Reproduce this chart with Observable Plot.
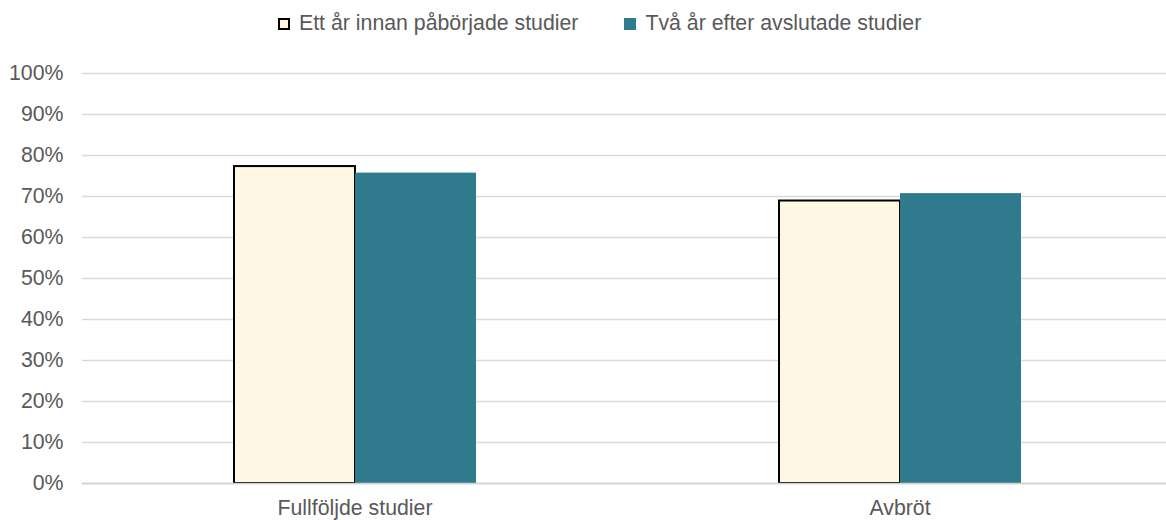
<!DOCTYPE html>
<html>
<head>
<meta charset="utf-8">
<script src="https://cdn.jsdelivr.net/npm/d3@7"></script>
<script src="https://cdn.jsdelivr.net/npm/@observablehq/plot@0.6"></script>
<style>
  html, body { margin: 0; padding: 0; background: #fff; overflow: hidden; }
  #wrap { width: 1166px; height: 520px; overflow: hidden; font-family: "Liberation Sans", Arial, sans-serif; color: #595959; }
  #legend { height: 44px; display: flex; align-items: center; padding-left: 278px; font-size: 21.3px; box-sizing: border-box; padding-top: 3px; }
  .item { display: flex; align-items: center; }
  .sw { width: 12px; height: 12px; box-sizing: border-box; margin-right: 9px; }
  #chart svg { display: block; max-width: none !important; }
</style>
</head>
<body>
<div id="wrap">
  <div id="legend"></div>
  <div id="chart"></div>
</div>
<script>
const categories = ["Fullföljde studier", "Avbröt"];
const seriesNames = ["Ett år innan påbörjade studier", "Två år efter avslutade studier"];
const valuesBefore = [0.773, 0.689];
const valuesAfter = [0.757, 0.707];
const yTicks = [0, 0.1, 0.2, 0.3, 0.4, 0.5, 0.6, 0.7, 0.8, 0.9, 1.0];
const colors = ["#FFF7E4", "#2F7B8D"];

const data = [];
categories.forEach((c, i) => {
  data.push({category: c, series: seriesNames[0], value: valuesBefore[i]});
  data.push({category: c, series: seriesNames[1], value: valuesAfter[i]});
});

// legend
const legend = document.getElementById("legend");
seriesNames.forEach((s, i) => {
  const item = document.createElement("div");
  item.className = "item";
  if (i > 0) item.style.marginLeft = "46px";
  const sw = document.createElement("div");
  sw.className = "sw";
  sw.style.background = colors[i];
  if (i === 0) sw.style.border = "2px solid #000";
  const t = document.createElement("span");
  t.textContent = s;
  item.appendChild(sw);
  item.appendChild(t);
  legend.appendChild(item);
});

const chart = Plot.plot({
  width: 1172,
  height: 476,
  marginLeft: 82,
  marginRight: 0,
  marginTop: 29,
  marginBottom: 37,
  style: {fontFamily: "Liberation Sans, Arial, sans-serif", fontSize: "21.3px", color: "#595959", background: "#fff", maxWidth: "none"},
  fx: {domain: categories, padding: 0, label: null, axis: null},
  x: {domain: seriesNames, paddingInner: 0, paddingOuter: 1.243, axis: null},
  y: {domain: [0, 1], ticks: yTicks, tickFormat: d3.format(".0%"), label: null, tickSize: 0, tickPadding: 19},
  marks: [
    Plot.ruleY(yTicks, {stroke: "#d9d9d9", strokeWidth: 1.4}),
    Plot.barY(data.filter(d => d.series === seriesNames[0]), {fx: "category", x: "series", y: "value", fill: colors[0], stroke: "#000", strokeWidth: 2}),
    Plot.barY(data.filter(d => d.series === seriesNames[1]), {fx: "category", x: "series", y: "value", fill: colors[1]}),
    Plot.ruleY([0], {stroke: "#d0d0d0", strokeWidth: 1.6}),
    Plot.axisFx({domain: categories, anchor: "bottom", tickSize: 0, tickPadding: 16, label: null, fontSize: 21.3, fill: "#595959"})
  ]
});
document.getElementById("chart").appendChild(chart);
</script>
</body>
</html>
